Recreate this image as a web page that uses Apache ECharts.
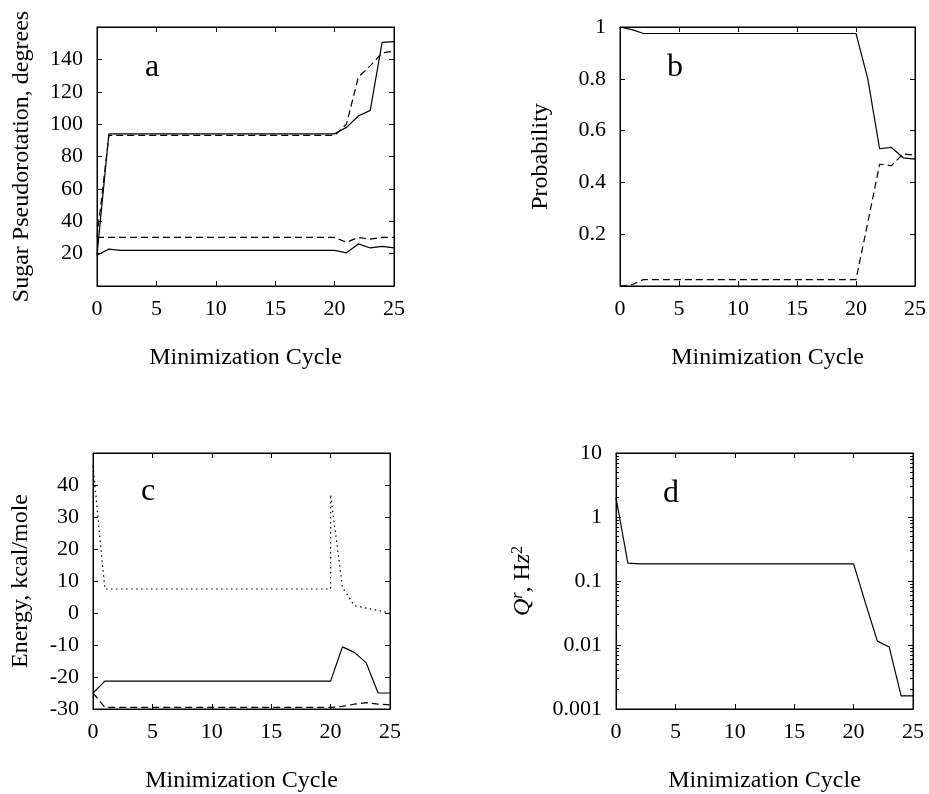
<!DOCTYPE html>
<html>
<head>
<meta charset="utf-8">
<script src="https://cdn.jsdelivr.net/npm/echarts@6/dist/echarts.min.js"></script>
<style>
  html, body { margin: 0; padding: 0; background: #fff; }
  #chart { width: 929px; height: 794px; }
</style>
</head>
<body>
<div id="chart"></div>
<script>
// minimization cycles (x for every series)
const cycles = [0, 1, 2, 3, 4, 5, 6, 7, 8, 9, 10, 11, 12, 13, 14, 15, 16, 17, 18, 19, 20, 21, 22, 23, 24, 25]

// panel a: sugar pseudorotation, degrees
const aSolidHigh = [19, 94, 94, 94, 94, 94, 94, 94, 94, 94, 94, 94, 94, 94, 94, 94, 94, 94, 94, 94, 94, 98, 105, 108.5, 150.5, 151]
const aDashHigh = [30, 93, 93, 93, 93, 93, 93, 93, 93, 93, 93, 93, 93, 93, 93, 93, 93, 93, 93, 93, 93, 100, 129, 136, 144, 145]
const aDashLow = [30, 30, 30, 30, 30, 30, 30, 30, 30, 30, 30, 30, 30, 30, 30, 30, 30, 30, 30, 30, 30, 27, 30, 29, 30, 30]
const aSolidLow = [19, 22.8, 22, 22, 22, 22, 22, 22, 22, 22, 22, 22, 22, 22, 22, 22, 22, 22, 22, 22, 22, 20.5, 26, 23.5, 24.5, 23.5]

// panel b: probability
const bSolid = [1, 0.99, 0.975, 0.975, 0.975, 0.975, 0.975, 0.975, 0.975, 0.975, 0.975, 0.975, 0.975, 0.975, 0.975, 0.975, 0.975, 0.975, 0.975, 0.975, 0.975, 0.8, 0.53, 0.535, 0.495, 0.49]
const bDash = [0, 0.005, 0.025, 0.025, 0.025, 0.025, 0.025, 0.025, 0.025, 0.025, 0.025, 0.025, 0.025, 0.025, 0.025, 0.025, 0.025, 0.025, 0.025, 0.025, 0.025, 0.245, 0.47, 0.465, 0.51, 0.505]

// panel c: energy, kcal/mole
const cSolid = [-25, -21.3, -21.3, -21.3, -21.3, -21.3, -21.3, -21.3, -21.3, -21.3, -21.3, -21.3, -21.3, -21.3, -21.3, -21.3, -21.3, -21.3, -21.3, -21.3, -21.3, -10.6, -12.3, -15.6, -25, -25]
const cDash = [-25, -29.5, -29.5, -29.5, -29.5, -29.5, -29.5, -29.5, -29.5, -29.5, -29.5, -29.5, -29.5, -29.5, -29.5, -29.5, -29.5, -29.5, -29.5, -29.5, -29.5, -29.2, -28.5, -28, -28.5, -28.7]
// dotted curve restarts at cycle 20, so it has its own x list
const cDotCycles = [0, 1, 2, 3, 4, 5, 6, 7, 8, 9, 10, 11, 12, 13, 14, 15, 16, 17, 18, 19, 20, 20, 21, 22, 23, 24, 25]
const cDot = [46, 7.5, 7.5, 7.5, 7.5, 7.5, 7.5, 7.5, 7.5, 7.5, 7.5, 7.5, 7.5, 7.5, 7.5, 7.5, 7.5, 7.5, 7.5, 7.5, 7.5, 37, 8, 2.3, 1.5, 0.8, 0]

// panel d: Q^r, Hz^2 (log scale)
const dSolid = [2, 0.19, 0.185, 0.185, 0.185, 0.185, 0.185, 0.185, 0.185, 0.185, 0.185, 0.185, 0.185, 0.185, 0.185, 0.185, 0.185, 0.185, 0.185, 0.185, 0.185, 0.045, 0.0115, 0.0093, 0.0016, 0.0016]
const dTickLabels = ['0.001', '0.01', '0.1', '1', '10']

const FONT = 'Liberation Serif'
const DASH = [7, 4]
const DOT = [1.5, 3.5]

const chart = echarts.init(document.getElementById('chart'))

const pairs = (xs, ys) => xs.map((x, i) => [x, ys[i]])

const grids = [
  { left: 97, top: 27, width: 297, height: 259 },
  { left: 620, top: 27, width: 297, height: 259 },
  { left: 93, top: 453, width: 297, height: 258 },
  { left: 616, top: 453, width: 297, height: 258 }
]

const xAxisFor = (gridIndex, position) => ({
  type: 'value',
  gridIndex,
  position,
  min: 0,
  max: 25,
  interval: 5,
  axisLine: { show: true, onZero: false, lineStyle: { color: '#000', width: 1 } },
  axisTick: { show: true, inside: true, length: 5, lineStyle: { color: '#000' } },
  axisLabel: { show: position === 'bottom', color: '#000', fontFamily: FONT, fontSize: 22, margin: 12 },
  splitLine: { show: false },
  name: position === 'bottom' ? 'Minimization Cycle' : '',
  nameLocation: 'middle',
  nameGap: 60,
  nameTextStyle: { color: '#000', fontFamily: FONT, fontSize: 24 }
})

const yAxisFor = (gridIndex, position, extra) => Object.assign({
  type: 'value',
  gridIndex,
  position,
  axisLine: { show: true, onZero: false, lineStyle: { color: '#000', width: 1 } },
  axisTick: { show: true, inside: true, length: 5, lineStyle: { color: '#000' } },
  axisLabel: { show: position === 'left', color: '#000', fontFamily: FONT, fontSize: 22, margin: 14 },
  splitLine: { show: false },
  nameLocation: 'middle',
  nameTextStyle: { color: '#000', fontFamily: FONT, fontSize: 24 }
}, extra)

const aY = { min: 0, max: 160, interval: 20 }
const bY = { min: 0, max: 1, interval: 0.2 }
const cY = { min: -30, max: 50, interval: 10 }
const dY = { type: 'log', logBase: 10, min: 0.001, max: 10 }

const xAxes = []
grids.forEach((g, i) => {
  xAxes.push(xAxisFor(i, 'bottom'))
  xAxes.push(xAxisFor(i, 'top'))
})

const yAxes = [
  yAxisFor(0, 'left', Object.assign({ name: 'Sugar Pseudorotation, degrees', nameGap: 63 }, aY)),
  yAxisFor(0, 'right', Object.assign({}, aY)),
  yAxisFor(1, 'left', Object.assign({ name: 'Probability', nameGap: 67 }, bY)),
  yAxisFor(1, 'right', Object.assign({}, bY)),
  yAxisFor(2, 'left', Object.assign({ name: 'Energy, kcal/mole', nameGap: 60 }, cY)),
  yAxisFor(2, 'right', Object.assign({}, cY)),
  yAxisFor(3, 'left', Object.assign({ name: '{i|Q}{s|r}, H{i|z}{n|2}', nameGap: 80 }, dY)),
  yAxisFor(3, 'right', Object.assign({}, dY))
]

// label tweaks
yAxes[0].axisLabel.showMinLabel = false
yAxes[0].axisLabel.showMaxLabel = false
yAxes[2].axisLabel.showMinLabel = false
yAxes[2].axisLabel.formatter = v => String(Math.round(v * 10) / 10)
yAxes[4].axisLabel.showMaxLabel = false
yAxes[6].axisLabel.formatter = v => dTickLabels[Math.round(Math.log10(v)) + 3]
yAxes[6].nameTextStyle.rich = {
  i: { fontFamily: FONT, fontSize: 24, fontStyle: 'italic', color: '#000' },
  s: { fontFamily: FONT, fontSize: 16, fontStyle: 'italic', color: '#000', padding: [0, 0, 10, 0] },
  n: { fontFamily: FONT, fontSize: 16, color: '#000', padding: [0, 0, 10, 0] }
}
yAxes[6].minorTick = { show: true, splitNumber: 9, length: 3, lineStyle: { color: '#000' } }
yAxes[7].minorTick = { show: true, splitNumber: 9, length: 3, lineStyle: { color: '#000' } }

const line = (xIdx, yIdx, data, type) => ({
  type: 'line',
  xAxisIndex: xIdx,
  yAxisIndex: yIdx,
  data,
  symbol: 'none',
  silent: true,
  lineStyle: { color: '#000', width: 1.2, type }
})

const panelLabel = (text, x, baseline) => ({
  type: 'text',
  x,
  y: baseline + 7,
  style: { text, font: '32px "Liberation Serif"', fill: '#000', textAlign: 'center', textVerticalAlign: 'bottom' }
})

chart.setOption({
  animation: false,
  backgroundColor: '#fff',
  grid: grids.map(g => Object.assign({ show: true, borderColor: '#000', borderWidth: 1 }, g)),
  xAxis: xAxes,
  yAxis: yAxes,
  series: [
    line(0, 0, pairs(cycles, aSolidHigh), 'solid'),
    line(0, 0, pairs(cycles, aDashHigh), DASH),
    line(0, 0, pairs(cycles, aDashLow), DASH),
    line(0, 0, pairs(cycles, aSolidLow), 'solid'),
    line(2, 2, pairs(cycles, bSolid), 'solid'),
    line(2, 2, pairs(cycles, bDash), DASH),
    line(4, 4, pairs(cycles, cSolid), 'solid'),
    line(4, 4, pairs(cycles, cDash), DASH),
    line(4, 4, pairs(cDotCycles, cDot), DOT),
    line(6, 6, pairs(cycles, dSolid), 'solid')
  ],
  graphic: [
    panelLabel('a', 152, 77),
    panelLabel('b', 675, 77),
    panelLabel('c', 148, 501),
    panelLabel('d', 671, 503)
  ]
})
</script>
</body>
</html>
